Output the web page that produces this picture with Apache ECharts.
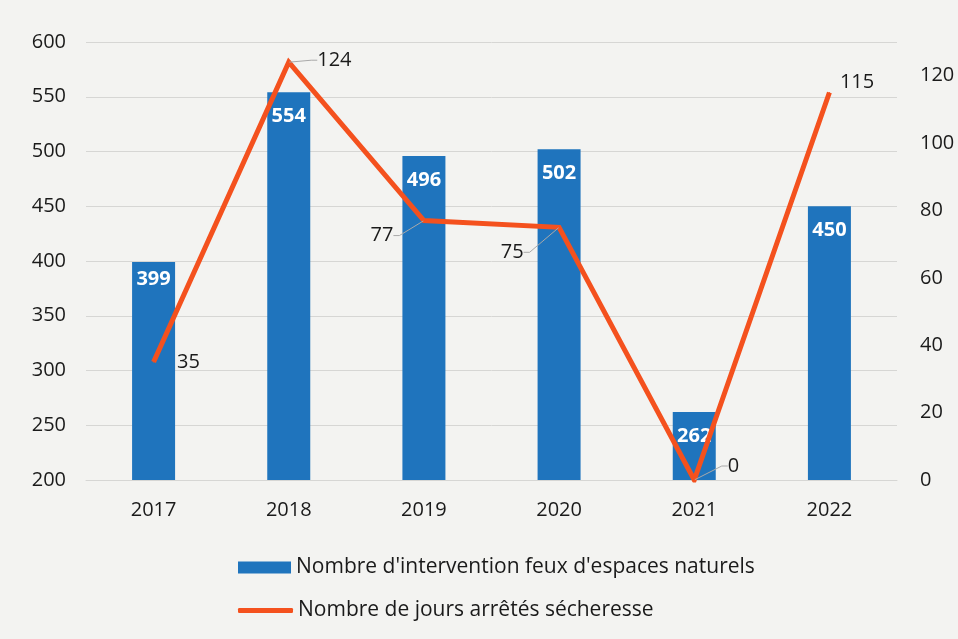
<!DOCTYPE html>
<html>
<head>
<meta charset="utf-8">
<script src="https://cdn.jsdelivr.net/npm/echarts@6/dist/echarts.min.js"></script>
<style>
html,body{margin:0;padding:0;background:#f3f3f1;}
#chart{width:958px;height:639px;}
</style>
</head>
<body>
<div id="chart"></div>
<script>
const years = ['2017','2018','2019','2020','2021','2022'];
const interventions = [399, 554, 496, 502, 262, 450];
const joursSecheresse = [35, 124, 77, 75, 0, 115];
const leftTicks = [200, 600, 50];
const rightTicks = [0, 130, 20];
const barName = "Nombre d'intervention feux d'espaces naturels";
const lineName = "Nombre de jours arrêtés sécheresse";

const linePos = ['right','right','left','left','right','right'];
const lineShift = [[13,0],[18,-2],[-20,15],[-25,25],[23,-14],[0,-10]];
const leaderShown = [false,true,true,true,true,false];

const font = "'Open Sans', sans-serif";
const chart = echarts.init(document.getElementById('chart'), null, {renderer:'canvas'});
chart.setOption({
  backgroundColor:'#f3f3f1',
  animation:false,
  textStyle:{fontFamily:font},
  grid:{left:86, right:61, top:42, bottom:159},
  legend:[
    {data:[barName], orient:'vertical', left:233, top:552, icon:'rect', itemWidth:53, itemHeight:12, itemGap:6,
     textStyle:{fontSize:21, color:'#1a1a1a', fontFamily:font}},
    {data:[lineName], orient:'vertical', left:233, top:595, icon:'roundRect', itemWidth:55, itemHeight:5, itemGap:6,
     textStyle:{fontSize:21, color:'#1a1a1a', fontFamily:font}}
  ],
  xAxis:{
    type:'category', data:years,
    axisTick:{show:false},
    axisLine:{lineStyle:{color:'#d6d6d4'}},
    axisLabel:{fontSize:20, color:'#1a1a1a', margin:20, fontFamily:font}
  },
  yAxis:[
    {type:'value', min:leftTicks[0], max:leftTicks[1], interval:leftTicks[2],
     axisLine:{show:false}, axisTick:{show:false},
     splitLine:{lineStyle:{color:'#d6d6d4', width:1}},
     axisLabel:{fontSize:20, color:'#1a1a1a', margin:20, fontFamily:font}},
    {type:'value', min:rightTicks[0], max:rightTicks[1], interval:rightTicks[2],
     axisLine:{show:false}, axisTick:{show:false}, splitLine:{show:false},
     axisLabel:{fontSize:20, color:'#1a1a1a', margin:23, fontFamily:font, showMaxLabel:false}}
  ],
  series:[
    {name:barName, type:'bar', yAxisIndex:0, barWidth:43,
     data:interventions.map((v,i)=> i===0 ? {value:v, label:{offset:[0,-7]}} : v),
     itemStyle:{color:'#1f74bd'},
     label:{show:true, position:'insideTop', distance:14, color:'#ffffff', fontWeight:'bold', fontSize:20, fontFamily:font}},
    {name:lineName, type:'line', yAxisIndex:1, z:5,
     data:joursSecheresse.map((v,i)=>({value:v, label:{position:linePos[i]}, labelLine:{show:leaderShown[i]}})),
     showSymbol:true, symbol:'circle', symbolSize:1,
     lineStyle:{color:'#f4511e', width:5, join:'miter'},
     itemStyle:{color:'#f4511e'},
     label:{show:true, color:'#1a1a1a', fontSize:20, fontFamily:font, distance:10},
     labelLine:{show:true, smooth:false, length2:6, lineStyle:{color:'#a9a9a9', width:1}},
     labelLayout:function(p){
       const s = lineShift[p.dataIndex];
       return {dx:s[0], dy:s[1]};
     }}
  ]
});
</script>
</body>
</html>
